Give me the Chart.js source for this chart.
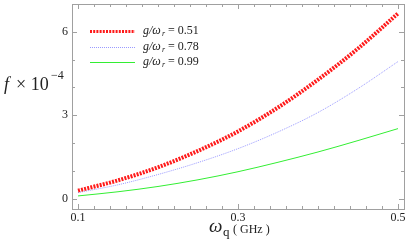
<!DOCTYPE html>
<html>
<head>
<meta charset="utf-8">
<script src="https://cdn.jsdelivr.net/npm/chart.js@4"></script>
<style>
  html, body { margin: 0; padding: 0; background: #fff; }
  #wrap { width: 415px; height: 245px; }
</style>
</head>
<body>
<div id="wrap"><canvas id="chart" width="415" height="245"></canvas></div>
<script>
// ==================== DATA ====================
const omegaQ = [0.1, 0.15, 0.2, 0.25, 0.3, 0.35, 0.4, 0.45, 0.5]; // GHz
const f051 = [0.29, 0.66, 1.13, 1.72, 2.42, 3.28, 4.28, 5.40, 6.66];
const f078 = [0.22, 0.50, 0.87, 1.30, 1.80, 2.40, 3.10, 3.96, 4.93];
const f099 = [0.10, 0.25, 0.44, 0.68, 0.97, 1.31, 1.68, 2.09, 2.52];
const ratioLabels = ['0.51', '0.78', '0.99'];
const xTickLabels = [0.1, 0.3, 0.5];
const yTickLabels = [0, 3, 6];

const SERIF = '"Liberation Serif", "DejaVu Serif", serif';
const FRAME = '#a0a0a0';

// draws the Mathematica style frame, inward ticks, labels and legend
const framePlugin = {
    id: 'frame',
    afterDraw(chart) {
        const ctx = chart.ctx;
        const a = chart.chartArea;
        const xs = chart.scales.x, ys = chart.scales.y;
        ctx.save();
        ctx.strokeStyle = FRAME;
        ctx.lineWidth = 1;
        ctx.strokeRect(Math.round(a.left) + 0.5, Math.round(a.top) + 0.5,
                       Math.round(a.right - a.left), Math.round(a.bottom - a.top));

        // x ticks every 0.02, major at the labelled ones
        for (let i = 0; i <= 20; i++) {
            const v = 0.1 + i * 0.02;
            const px = Math.round(xs.getPixelForValue(v)) + 0.5;
            const major = xTickLabels.some(t => Math.abs(t - v) < 1e-6);
            const len = major ? 5 : 3;
            ctx.beginPath();
            ctx.moveTo(px, a.bottom); ctx.lineTo(px, a.bottom - len);
            ctx.moveTo(px, a.top); ctx.lineTo(px, a.top + len);
            ctx.stroke();
        }
        // y ticks every 1
        for (let v = 0; v <= 7; v++) {
            const py = Math.round(ys.getPixelForValue(v)) + 0.5;
            const major = yTickLabels.includes(v);
            const len = major ? 5 : 3;
            ctx.beginPath();
            ctx.moveTo(a.left, py); ctx.lineTo(a.left + len, py);
            ctx.moveTo(a.right, py); ctx.lineTo(a.right - len, py);
            ctx.stroke();
        }

        // tick labels
        ctx.fillStyle = '#222';
        ctx.font = '12px ' + SERIF;
        ctx.textAlign = 'center';
        ctx.textBaseline = 'top';
        xTickLabels.forEach(t => ctx.fillText(String(t), xs.getPixelForValue(t), a.bottom + 3));
        ctx.textAlign = 'right';
        ctx.textBaseline = 'middle';
        yTickLabels.forEach(t => ctx.fillText(String(t), a.left - 4, ys.getPixelForValue(t)));

        // y title: f x 10^-4
        ctx.textAlign = 'left';
        ctx.textBaseline = 'alphabetic';
        ctx.font = 'italic 18px ' + SERIF;
        ctx.fillText('f', 4, 90);
        ctx.font = '18px ' + SERIF;
        ctx.fillText('× 10', 16, 90);
        ctx.font = '12px ' + SERIF;
        ctx.fillText('−4', 51, 79);

        // x title: omega_q ( GHz )
        ctx.font = 'italic 19px ' + SERIF;
        ctx.fillText('ω', 209, 232);
        ctx.font = '13px ' + SERIF;
        ctx.fillText('q', 223, 236);
        ctx.font = '12px ' + SERIF;
        ctx.fillText('( GHz )', 233, 233);

        // legend
        const ys0 = [31, 47, 62];
        chart.data.datasets.forEach((ds, i) => {
            ctx.save();
            ctx.strokeStyle = ds.borderColor;
            ctx.lineWidth = i === 0 ? 3 : 1;
            ctx.setLineDash(ds.borderDash || []);
            ctx.beginPath();
            ctx.moveTo(90, ys0[i] + 0.5); ctx.lineTo(135, ys0[i] + 0.5);
            ctx.stroke();
            ctx.restore();
            ctx.fillStyle = '#222';
            ctx.textBaseline = 'middle';
            ctx.font = 'italic 12px ' + SERIF;
            ctx.fillText('g/ω', 143, ys0[i]);
            ctx.font = 'italic 8px ' + SERIF;
            ctx.fillText('r', 162, ys0[i] + 3);
            ctx.font = '12px ' + SERIF;
            ctx.fillText('= ' + ratioLabels[i], 168, ys0[i]);
        });
        ctx.restore();
    }
};

function toPoints(ys) {
    return omegaQ.map((x, i) => ({x: x, y: ys[i]}));
}

const data = {
    datasets: [
        {
            label: 'g/ωr = 0.51',
            data: toPoints(f051),
            borderColor: '#ff1a1a',
            borderWidth: 4,
            borderDash: [2, 1.2],
            pointRadius: 0,
            cubicInterpolationMode: 'monotone',
            fill: false
        },
        {
            label: 'g/ωr = 0.78',
            data: toPoints(f078),
            borderColor: '#9a9aff',
            borderWidth: 1,
            borderDash: [1, 1],
            pointRadius: 0,
            cubicInterpolationMode: 'monotone',
            fill: false
        },
        {
            label: 'g/ωr = 0.99',
            data: toPoints(f099),
            borderColor: '#33ee33',
            borderWidth: 1,
            pointRadius: 0,
            cubicInterpolationMode: 'monotone',
            fill: false
        }
    ]
};

const chartOptions = {
    responsive: false,
    animation: false,
    layout: {padding: {left: 0, right: 11, top: 4, bottom: 0}},
    scales: {
        x: {
            type: 'linear',
            min: 0.0925,
            max: 0.5075,
            grid: {display: false},
            border: {display: false},
            ticks: {display: false},
            afterFit(scale) { scale.height = 36; }
        },
        y: {
            type: 'linear',
            min: -0.37,
            max: 7.0,
            grid: {display: false},
            border: {display: false},
            ticks: {display: false},
            afterFit(scale) { scale.width = 72; }
        }
    },
    plugins: {
        legend: {display: false},
        tooltip: {enabled: false}
    }
};

new Chart(document.querySelector('#chart').getContext('2d'),
          {type: 'line', data: data, options: chartOptions, plugins: [framePlugin]});
</script>
</body>
</html>
